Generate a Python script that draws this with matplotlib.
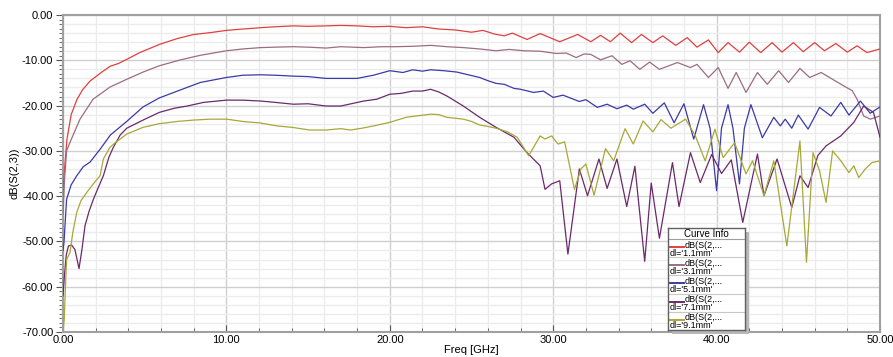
import matplotlib.pyplot as plt
from matplotlib.patches import Rectangle
from matplotlib.ticker import MultipleLocator, FormatStrFormatter

plt.rcParams["font.family"] = ["Liberation Sans", "DejaVu Sans"]

# dl = 1.1 mm
f_11 = [0.0, 0.05, 0.24, 0.5, 0.86, 1.2, 1.65, 2.3, 2.9, 3.4, 3.9, 4.7, 5.9, 7.0, 8.0,
        9.0, 10.0, 11.0, 12.1, 13.0, 14.1, 15.0, 16.1, 17.0, 18.0, 19.0, 20.0, 21.0,
        22.0, 23.0, 24.0, 25.0, 25.7, 26.4, 27.0, 27.5, 28.4, 29.2, 30.4, 31.5, 32.3,
        32.9, 33.5, 34.1, 34.8, 35.4, 36.1, 36.7, 37.5, 38.2, 38.8, 39.5, 40.1, 40.7,
        41.4, 42.0, 42.7, 43.4, 44.0, 44.7, 45.3, 46.0, 46.6, 47.3, 48.0, 48.6, 49.2, 50.0]
s_11 = [-40.0, -36.0, -27.5, -22.0, -18.6, -16.5, -14.6, -12.8, -11.3, -10.7, -9.8, -8.3,
        -6.5, -5.2, -4.3, -3.9, -3.4, -3.1, -2.8, -2.6, -2.4, -2.5, -2.4, -2.3, -2.4,
        -2.6, -2.5, -2.8, -2.6, -3.1, -3.3, -3.8, -3.4, -4.2, -4.6, -4.0, -5.4, -4.1,
        -5.9, -4.3, -5.9, -4.5, -5.9, -4.0, -6.1, -4.3, -6.1, -4.6, -6.7, -5.0, -7.1,
        -5.5, -8.3, -6.1, -8.2, -6.0, -8.3, -6.1, -8.2, -6.1, -8.1, -6.1, -7.9, -6.3,
        -8.2, -6.8, -8.3, -7.5]

# dl = 3.1 mm
f_31 = [0.0, 0.1, 0.22, 0.43, 1.04, 1.84, 2.88, 3.9, 4.9, 5.9, 7.2, 8.4, 10.0, 11.0,
        12.1, 13.0, 14.1, 15.0, 16.1, 17.0, 18.4, 19.5, 20.4, 21.5, 22.5, 23.5, 24.5,
        25.5, 26.5, 27.3, 28.2, 29.2, 30.2, 30.8, 31.4, 31.9, 32.3, 32.9, 33.6, 34.2,
        34.7, 35.3, 35.9, 36.5, 37.6, 38.4, 38.8, 39.5, 40.1, 40.7, 41.2, 41.8, 42.5,
        43.1, 43.8, 44.4, 45.1, 45.7, 46.4, 47.1, 47.8, 48.3, 48.6, 49.0, 49.4, 50.0]
s_31 = [-44.0, -36.0, -30.0, -28.1, -23.0, -18.6, -15.9, -14.2, -12.6, -11.2, -9.9, -8.9,
        -7.9, -7.5, -7.2, -7.1, -7.0, -7.1, -7.3, -7.0, -7.2, -7.0, -7.0, -6.9, -6.7,
        -7.0, -7.2, -7.5, -7.9, -7.6, -7.9, -8.0, -8.5, -8.4, -9.4, -8.6, -8.7, -9.9,
        -9.0, -10.9, -10.1, -12.0, -10.4, -12.0, -10.5, -11.6, -10.9, -13.8, -11.6, -16.2,
        -12.7, -17.1, -12.7, -15.3, -12.3, -14.9, -11.8, -13.8, -12.7, -14.2, -15.7,
        -16.7, -18.6, -22.3, -23.0, -22.3]

# dl = 5.1 mm
f_51 = [0.0, 0.06, 0.22, 0.5, 0.84, 1.24, 1.65, 2.3, 2.9, 3.9, 4.9, 5.9, 7.0, 8.4, 10.0,
        11.0, 12.1, 13.0, 14.1, 15.0, 16.1, 17.0, 18.0, 19.0, 20.0, 20.8, 21.4, 22.0,
        22.5, 23.3, 24.1, 24.8, 25.5, 26.0, 26.5, 27.0, 27.6, 28.0, 28.8, 29.4, 30.0,
        30.6, 31.6, 32.0, 32.7, 33.3, 33.9, 34.5, 34.9, 35.6, 36.1, 36.8, 37.4, 38.0,
        38.6, 39.2, 39.6, 40.0, 40.3, 40.7, 41.0, 41.4, 41.7, 42.1, 42.8, 43.5, 43.9,
        44.2, 44.6, 45.0, 45.6, 46.3, 47.0, 47.6, 48.1, 48.8, 49.4, 50.0]
s_51 = [-52.0, -50.2, -40.7, -37.5, -35.5, -33.5, -32.5, -29.5, -26.5, -23.5, -20.3,
        -18.3, -16.8, -14.9, -13.8, -13.3, -13.2, -13.3, -13.5, -13.6, -14.0, -14.0,
        -14.0, -13.3, -12.3, -12.7, -12.1, -12.4, -12.1, -12.3, -12.6, -13.2, -13.8,
        -14.5, -15.1, -15.3, -16.2, -16.4, -17.1, -16.8, -18.2, -17.7, -19.1, -18.7,
        -20.4, -19.7, -20.7, -19.9, -20.8, -19.7, -21.7, -19.4, -23.8, -19.6, -27.4,
        -19.8, -25.0, -38.8, -25.0, -19.8, -25.0, -37.3, -25.0, -19.8, -27.1, -22.6,
        -24.5, -23.0, -25.0, -22.1, -25.2, -20.4, -22.3, -19.3, -22.1, -19.0, -21.7, -20.3]

# dl = 7.1 mm
f_71 = [0.0, 0.1, 0.2, 0.33, 0.53, 0.73, 0.98, 1.15, 1.35, 1.6, 1.86, 2.17, 2.47, 2.8,
        3.07, 3.5, 3.9, 4.9, 5.9, 6.8, 7.6, 8.6, 10.0, 11.0, 12.1, 13.0, 14.1, 15.0,
        16.1, 17.0, 18.4, 19.2, 20.0, 20.7, 21.4, 22.0, 22.5, 23.0, 23.5, 24.5, 25.5,
        26.5, 27.6, 28.4, 29.2, 29.5, 29.9, 30.4, 30.9, 31.6, 32.1, 32.8, 33.3, 33.9,
        34.5, 35.0, 35.6, 36.0, 36.5, 37.3, 37.7, 38.4, 39.0, 39.7, 40.3, 40.9, 41.6,
        42.5, 42.9, 43.7, 44.6, 45.1, 45.6, 46.2, 46.7, 47.6, 48.4, 49.0, 49.6, 50.0]
s_71 = [-62.0, -57.0, -53.0, -51.0, -50.8, -51.8, -56.0, -52.0, -46.5, -43.3, -40.7,
        -38.0, -35.5, -31.5, -29.3, -26.5, -25.0, -23.2, -21.5, -20.6, -20.1, -19.3,
        -18.8, -18.8, -19.0, -19.3, -19.7, -19.6, -20.1, -20.1, -19.0, -18.6, -17.5,
        -17.3, -16.8, -16.8, -16.4, -17.0, -17.9, -20.1, -22.6, -24.8, -27.0, -30.4,
        -33.3, -38.5, -37.3, -36.6, -52.8, -34.0, -39.9, -31.8, -38.3, -31.8, -42.3,
        -33.4, -54.4, -37.1, -49.3, -32.6, -42.3, -30.4, -37.0, -30.8, -35.0, -32.0,
        -45.8, -30.7, -39.9, -31.8, -42.5, -35.5, -38.1, -31.0, -28.9, -26.7, -23.7,
        -20.1, -21.5, -27.0]

# dl = 9.1 mm
f_91 = [0.0, 0.08, 0.15, 0.22, 0.43, 0.6, 0.84, 1.1, 1.45, 1.85, 2.27, 2.47, 2.88, 3.2,
        3.9, 4.9, 5.9, 7.0, 8.0, 9.0, 10.0, 11.2, 12.0, 13.1, 14.0, 15.1, 16.1, 17.0,
        17.6, 18.3, 19.0, 20.0, 21.0, 21.4, 22.5, 23.0, 23.5, 24.5, 25.0, 25.5, 26.0,
        26.5, 27.2, 27.8, 28.5, 29.2, 29.5, 29.9, 30.3, 30.7, 31.3, 31.7, 32.0, 32.5,
        33.2, 33.7, 34.4, 34.9, 35.5, 36.1, 36.6, 37.2, 38.1, 38.7, 39.3, 39.9, 40.4,
        41.1, 41.8, 42.2, 42.9, 43.5, 44.3, 45.1, 45.5, 45.9, 46.3, 46.7, 47.1, 47.6,
        48.1, 48.4, 48.7, 49.1, 49.5, 50.0]
s_91 = [-70.0, -67.0, -60.0, -54.0, -52.4, -48.0, -43.6, -41.0, -39.2, -37.3, -35.5,
        -31.8, -29.2, -28.2, -26.3, -24.8, -24.0, -23.5, -23.2, -23.0, -23.0, -23.6,
        -23.8, -24.5, -24.8, -25.4, -25.4, -25.1, -25.4, -25.0, -24.5, -23.7, -22.6,
        -22.4, -21.9, -22.0, -22.6, -23.0, -23.5, -24.3, -24.6, -25.0, -25.8, -27.0,
        -31.1, -26.7, -27.4, -26.7, -28.5, -28.0, -38.5, -34.0, -32.9, -39.8, -29.5,
        -32.2, -25.1, -28.5, -23.4, -25.8, -23.1, -25.0, -23.0, -26.7, -32.2, -25.2,
        -31.5, -28.2, -35.1, -32.2, -39.9, -32.2, -51.0, -27.8, -54.6, -30.4, -34.4,
        -41.4, -30.0, -32.2, -34.8, -33.3, -35.9, -34.0, -32.6, -32.2]

labels = ["dl='1.1mm'", "dl='3.1mm'", "dl='5.1mm'", "dl='7.1mm'", "dl='9.1mm'"]
colors = ["#e0403f", "#9c6c84", "#3a3aa8", "#6a2a6a", "#a8a838"]
series = [(f_11, s_11), (f_31, s_31), (f_51, s_51), (f_71, s_71), (f_91, s_91)]

fig = plt.figure(figsize=(8.93, 3.57), dpi=100)
ax = fig.add_axes([63 / 893, 1 - 332 / 357, 817 / 893, 317 / 357])

for (f, s), c in zip(series, colors):
    ax.plot(f, s, color=c, lw=0.9, zorder=3)

ax.set_xlim(0, 50)
ax.set_ylim(-70, 0)
ax.xaxis.set_major_locator(MultipleLocator(10))
ax.xaxis.set_minor_locator(MultipleLocator(2))
ax.yaxis.set_major_locator(MultipleLocator(10))
ax.yaxis.set_minor_locator(MultipleLocator(1))
ax.xaxis.set_major_formatter(FormatStrFormatter("%.2f"))
ax.yaxis.set_major_formatter(FormatStrFormatter("%.2f"))

# grid: every 2 GHz / 2 dB light, major darker
for x in range(0, 51, 2):
    ax.axvline(x, color="#d0d0d0" if x % 10 == 0 else "#ececec", lw=1.0, zorder=1)
for y in range(-70, 1, 2):
    ax.axhline(y, color="#d0d0d0" if y % 10 == 0 else "#ececec", lw=1.0, zorder=1)

for sp in ax.spines.values():
    sp.set_color("#a0a0a0")
    sp.set_linewidth(1.5)
ax.tick_params(axis="y", which="major", length=5, width=0.8, color="#555555", labelsize=8, pad=2)
ax.tick_params(axis="y", which="minor", length=3, width=0.6, color="#555555")
ax.tick_params(axis="x", which="major", direction="in", length=5, width=0.8,
               color="#555555", labelsize=8, pad=2)
ax.tick_params(axis="x", which="minor", direction="in", length=3, width=0.6, color="#555555")
ax.set_xlabel("Freq [GHz]", fontsize=8, labelpad=0)
ax.set_ylabel("dB(S(2,3))", fontsize=8, labelpad=2)

# "Curve Info" box
bx, by, bw, bh = 668 / 893, 1 - 330 / 357, 77 / 893, 102 / 357
fig.add_artist(Rectangle((bx + 4 / 893, by - 4 / 357), bw, bh, transform=fig.transFigure,
                         facecolor="#b8b8b8", edgecolor="none", zorder=2))
lg = fig.add_axes([bx, by, bw, bh], zorder=5)
lg.set_xlim(0, 77)
lg.set_ylim(0, 102)
lg.set_xticks([])
lg.set_yticks([])
for sp in lg.spines.values():
    sp.set_color("#606060")
    sp.set_linewidth(1.0)
lg.text(38.5, 96.5, "Curve Info", ha="center", va="center", fontsize=7)
row_h = 18.2
top = 91
lg.axhline(top, color="#a0a0a0", lw=0.8)
for i, (lab, c) in enumerate(zip(labels, colors)):
    y0 = top - i * row_h
    if i > 0:
        lg.axhline(y0, color="#c8c8c8", lw=0.8)
    lg.plot([2, 16], [y0 - 8, y0 - 8], color=c, lw=1.4)
    lg.text(17, y0 - 8.5, "dB(S(2,...", fontsize=6.5, va="baseline", ha="left")
    lg.text(2, y0 - 16.5, lab, fontsize=6.5, va="baseline", ha="left")

fig.savefig("out.png", dpi=100)
